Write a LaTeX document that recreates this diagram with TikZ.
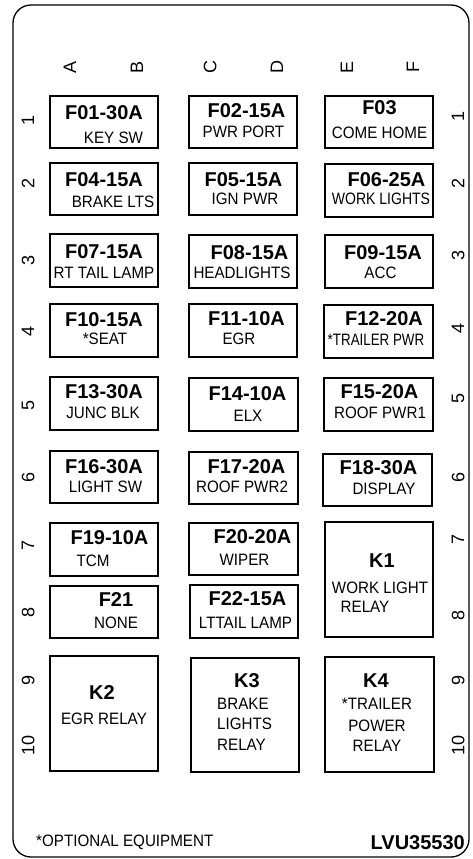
\documentclass[tikz,border=0pt]{standalone}
\usepackage{fontspec}
\setmainfont{Liberation Sans}
\newfontfamily\cf[FakeStretch=0.92]{Liberation Sans}
\newfontfamily\cfn[FakeStretch=0.85]{Liberation Sans}
\newfontfamily\cfx[FakeStretch=0.81]{Liberation Sans}
\usetikzlibrary{fit}
\tikzset{
  boxst/.style={draw, line width=1.2pt, inner sep=0pt},
  bt/.style={font=\bfseries\fontsize{20}{22}\selectfont, inner sep=0pt, text depth=0pt},
  kt/.style={font=\bfseries\fontsize{20}{22}\selectfont, inner sep=0pt, text depth=0pt},
  rt/.style={font=\cf\fontsize{16.5}{18}\selectfont, inner sep=0pt, text depth=0pt},
  rts/.style={font=\cfn\fontsize{16.5}{18}\selectfont, inner sep=0pt, text depth=0pt},
  rtxs/.style={font=\cfx\fontsize{16.5}{18}\selectfont, inner sep=0pt, text depth=0pt},
  lab/.style={font=\fontsize{18}{20}\selectfont, inner sep=0pt, text depth=0pt, rotate=90},
}
\begin{document}
\begin{tikzpicture}[x=1pt,y=-1pt]
\useasboundingbox (0,0) rectangle (472,859);
% frame
\node[draw, line width=1.3pt, rounded corners=18pt, inner sep=0pt, fit={(13,5)(469,857)}] (frame) {};
% column letters
\node[lab] (cA) at (70,67) {A};
\node[lab] (cB) at (137,67) {B};
\node[lab] (cC) at (210,67) {C};
\node[lab] (cD) at (277,67) {D};
\node[lab] (cE) at (347,67) {E};
\node[lab] (cF) at (413,67) {F};
% row labels left
\node[lab] (l1) at (28,120) {1};
\node[lab] (l2) at (28,183) {2};
\node[lab] (l3) at (28,260) {3};
\node[lab] (l4) at (28,331) {4};
\node[lab] (l5) at (28,405) {5};
\node[lab] (l6) at (28,477) {6};
\node[lab] (l7) at (28,545) {7};
\node[lab] (l8) at (28,612) {8};
\node[lab] (l9) at (28,680) {9};
\node[lab] (l10) at (28,745) {10};
% row labels right
\node[lab] (r1) at (458,116) {1};
\node[lab] (r2) at (458,183) {2};
\node[lab] (r3) at (458,255) {3};
\node[lab] (r4) at (458,328) {4};
\node[lab] (r5) at (458,398) {5};
\node[lab] (r6) at (458,477) {6};
\node[lab] (r7) at (458,539) {7};
\node[lab] (r8) at (458,615) {8};
\node[lab] (r9) at (458,680) {9};
\node[lab] (r10) at (458,745) {10};
% boxes
\node[boxst, fit={(50,96)(158,148)}] (b01) {};
\node[boxst, fit={(189,96)(297,148)}] (b02) {};
\node[boxst, fit={(325,96)(433,148)}] (b03) {};
\node[boxst, fit={(50,163)(158,215)}] (b04) {};
\node[boxst, fit={(189,163)(297,215)}] (b05) {};
\node[boxst, fit={(325,164)(433,217)}] (b06) {};
\node[boxst, fit={(50,234)(158,287)}] (b07) {};
\node[boxst, fit={(189,235)(297,288)}] (b08) {};
\node[boxst, fit={(325,235)(433,288)}] (b09) {};
\node[boxst, fit={(50,304)(158,357)}] (b10) {};
\node[boxst, fit={(189,304)(297,357)}] (b11) {};
\node[boxst, fit={(324,305)(433,358)}] (b12) {};
\node[boxst, fit={(50,377)(158,430)}] (b13) {};
\node[boxst, fit={(189,378)(298,431)}] (b14) {};
\node[boxst, fit={(324,378)(433,431)}] (b15) {};
\node[boxst, fit={(50,451)(158,503)}] (b16) {};
\node[boxst, fit={(189,452)(298,504)}] (b17) {};
\node[boxst, fit={(323,454)(432,506)}] (b18) {};
\node[boxst, fit={(50,523)(158,576)}] (b19) {};
\node[boxst, fit={(189,523)(298,575)}] (b20) {};
\node[boxst, fit={(50,586)(158,638)}] (b21) {};
\node[boxst, fit={(190,585)(298,638)}] (b22) {};
\node[boxst, fit={(325,522)(433,637)}] (k1) {};
\node[boxst, fit={(50,656)(158,771)}] (k2) {};
\node[boxst, fit={(191,658)(299,772)}] (k3) {};
\node[boxst, fit={(325,657)(434,772)}] (k4) {};
% texts row 1
\node[bt] (t01) at (104,113) {F01-30A};
\node[rt] (s01) at (113.5,138) {KEY SW};
\node[bt] (t02) at (246.5,111) {F02-15A};
\node[rt] (s02) at (243.5,132) {PWR PORT};
\node[bt] (t03) at (379.5,108) {F03};
\node[rt] (s03) at (379.5,133) {COME HOME};
% row 2
\node[bt] (t04) at (104,180) {F04-15A};
\node[rt] (s04) at (113,202) {BRAKE LTS};
\node[bt] (t05) at (243.5,180) {F05-15A};
\node[rt] (s05) at (245,199) {IGN PWR};
\node[bt] (t06) at (386.5,180) {F06-25A};
\node[rts] (s06) at (381,199) {WORK LIGHTS};
% row 3
\node[bt] (t07) at (104,252) {F07-15A};
\node[rt] (s07) at (104,273) {RT TAIL LAMP};
\node[bt] (t08) at (249.5,253) {F08-15A};
\node[rt] (s08) at (242,273) {HEADLIGHTS};
\node[bt] (t09) at (383,253) {F09-15A};
\node[rt] (s09) at (380.5,273) {ACC};
% row 4
\node[bt] (t10) at (104,320) {F10-15A};
\node[rt] (s10) at (105,339) {*SEAT};
\node[bt] (t11) at (246.5,319) {F11-10A};
\node[rt] (s11) at (239,339) {EGR};
\node[bt] (t12) at (384,319) {F12-20A};
\node[rtxs] (s12) at (376,340) {*TRAILER PWR};
% row 5
\node[bt] (t13) at (104,392) {F13-30A};
\node[rt] (s13) at (103,413) {JUNC BLK};
\node[bt] (t14) at (247.5,394) {F14-10A};
\node[rt] (s14) at (248,416) {ELX};
\node[bt] (t15) at (379.5,392) {F15-20A};
\node[rt] (s15) at (380,413) {ROOF PWR1};
% row 6
\node[bt] (t16) at (104,467) {F16-30A};
\node[rt] (s16) at (105.5,487) {LIGHT SW};
\node[bt] (t17) at (246.5,467) {F17-20A};
\node[rt] (s17) at (242,487) {ROOF PWR2};
\node[bt] (t18) at (378.5,468) {F18-30A};
\node[rt] (s18) at (384,489) {DISPLAY};
% row 7
\node[bt] (t19) at (109.5,538) {F19-10A};
\node[rt] (s19) at (93,561) {TCM};
\node[bt] (t20) at (252.5,537) {F20-20A};
\node[rt] (s20) at (244.5,560) {WIPER};
% row 8
\node[bt] (t21) at (116,600) {F21};
\node[rt] (s21) at (116,623) {NONE};
\node[bt] (t22) at (247.5,599) {F22-15A};
\node[rt] (s22) at (245.5,623) {LTTAIL LAMP};
% relays
\node[kt] (tk1) at (382,561) {K1};
\node[rt] (sk1a) at (380,588) {WORK LIGHT};
\node[rt] (sk1b) at (365,607) {RELAY};
\node[kt] (tk2) at (102,693) {K2};
\node[rt] (sk2) at (104,719) {EGR RELAY};
\node[kt] (tk3) at (247,681) {K3};
\node[rt, anchor=west] (sk3a) at (217,704) {BRAKE};
\node[rt, anchor=west] (sk3b) at (217,724) {LIGHTS};
\node[rt, anchor=west] (sk3c) at (217,745) {RELAY};
\node[kt] (tk4) at (376,681) {K4};
\node[rt] (sk4a) at (377,704) {*TRAILER};
\node[rt] (sk4b) at (377,726) {POWER};
\node[rt] (sk4c) at (377,746) {RELAY};
% footer
\node[rt, anchor=west] (opt) at (36,841) {*OPTIONAL EQUIPMENT};
\node[bt, anchor=east] (code) at (465,843) {LVU35530};
\end{tikzpicture}
\end{document}
